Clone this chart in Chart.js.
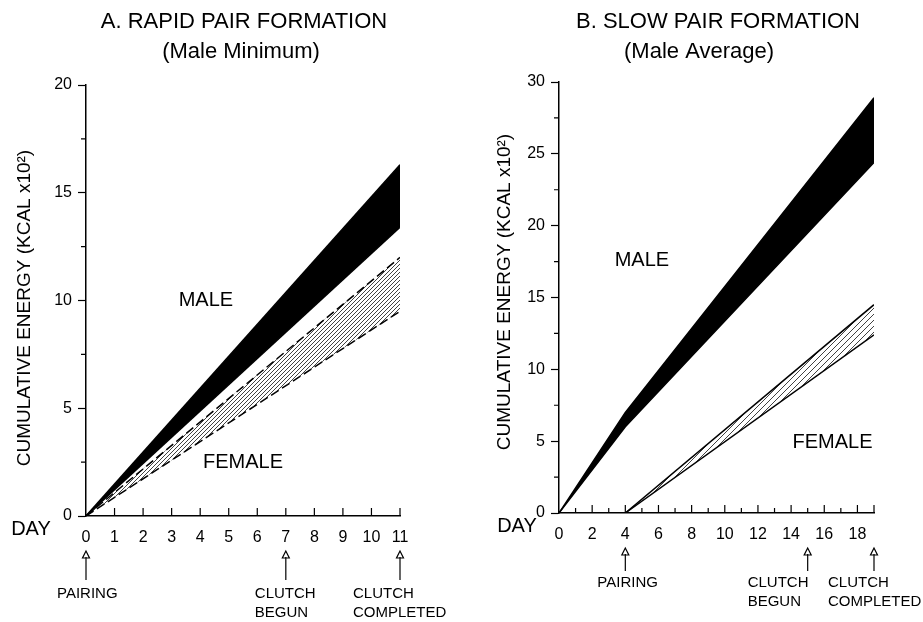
<!doctype html>
<html lang="en">
  <head>
    <meta charset="utf-8">
    <title>Cumulative energy of pair formation</title>
    <style>
      body { margin: 0; background: #fff; }
      .panel { position: absolute; top: 0; height: 622px; }
      #panelA { left: 0; width: 462px; }
      #panelB { left: 462px; width: 461px; }
    </style>
  </head>
  <body>
    <div class="panel" id="panelA"><canvas id="chartA"></canvas></div>
    <div class="panel" id="panelB"><canvas id="chartB"></canvas></div>

    <script src="https://cdn.jsdelivr.net/npm/chart.js@4/dist/chart.umd.min.js"></script>
    <script>
        // values (energy in kcal x 10^2)
        var daysA = [0, 11]
        var maleMaxA = [0, 16.3]
        var maleMinA = [0, 13.4]
        var femaleMaxA = [0, 12.0]
        var femaleMinA = [0, 9.5]

        var daysMaleB = [0, 4, 19]
        var maleMaxB = [0, 7.0, 28.9]
        var maleMinB = [0, 6.0, 24.4]
        var daysFemaleB = [4, 19]
        var femaleMaxB = [0, 14.5]
        var femaleMinB = [0, 12.4]

        var eventsA = [
            {day: 0, lines: ['PAIRING']},
            {day: 7, lines: ['CLUTCH', 'BEGUN']},
            {day: 11, lines: ['CLUTCH', 'COMPLETED']}
        ]
        var eventsB = [
            {day: 4, lines: ['PAIRING']},
            {day: 15, lines: ['CLUTCH', 'BEGUN']},
            {day: 19, lines: ['CLUTCH', 'COMPLETED']}
        ]

        var FONT = '"Liberation Sans", Arial, sans-serif'

        function pts(xs, ys) {
            return xs.map(function (x, i) { return {x: x, y: ys[i]} })
        }

        function hatch(w, h, lw) {
            var c = document.createElement('canvas')
            c.width = w
            c.height = h
            var g = c.getContext('2d')
            g.strokeStyle = '#111'
            g.lineWidth = lw
            g.beginPath()
            for (var k = -1; k <= 1; k++) {
                g.moveTo(k * w, h)
                g.lineTo(k * w + w, 0)
            }
            g.stroke()
            return g.createPattern(c, 'repeat')
        }

        function line(data, opts) {
            var d = {
                data: data,
                borderColor: '#000',
                borderWidth: 1.5,
                pointRadius: 0,
                tension: 0,
                fill: false
            }
            for (var k in opts) d[k] = opts[k]
            return d
        }

        // titles, axis texts, ticks pointing into the plot, event arrows
        function decor(cfg) {
            return {
                id: 'decor',
                afterDraw: function (chart) {
                    var ctx = chart.ctx
                    var x = chart.scales.x, y = chart.scales.y
                    var base = y.getPixelForValue(0)
                    ctx.save()
                    ctx.fillStyle = '#000'
                    ctx.strokeStyle = '#000'
                    ctx.textAlign = 'center'
                    ctx.textBaseline = 'middle'

                    ctx.font = '22px ' + FONT
                    ctx.fillText(cfg.title[0], cfg.titleX[0], 22)
                    ctx.fillText(cfg.title[1], cfg.titleX[1], 52)

                    ctx.save()
                    ctx.translate(cfg.yTitle[0], cfg.yTitle[1])
                    ctx.rotate(-Math.PI / 2)
                    ctx.font = '19px ' + FONT
                    ctx.fillText('CUMULATIVE ENERGY (KCAL x10\u00B2)', 0, 0)
                    ctx.restore()

                    ctx.font = '20px ' + FONT
                    ctx.fillText('DAY', cfg.dayX, base + 13)
                    cfg.words.forEach(function (w) {
                        ctx.fillText(w.text, x.getPixelForValue(w.x), y.getPixelForValue(w.y))
                    })

                    // minor y ticks
                    ctx.lineWidth = 1.2
                    ctx.beginPath()
                    for (var v = 2.5; v < y.max; v += 5) {
                        var py = y.getPixelForValue(v)
                        ctx.moveTo(x.left, py)
                        ctx.lineTo(x.left - 5, py)
                    }
                    // x ticks pointing up
                    for (var d = 1; d <= x.max; d++) {
                        var px = x.getPixelForValue(d)
                        var len = (d % cfg.majorEvery === 0 || d === x.max) ? 8 : 5
                        ctx.moveTo(px, base)
                        ctx.lineTo(px, base - len)
                    }
                    ctx.stroke()

                    // event arrows
                    ctx.font = '15px ' + FONT
                    ctx.textAlign = 'left'
                    cfg.events.forEach(function (ev, i) {
                        var px = x.getPixelForValue(ev.day)
                        var top = cfg.arrowTop
                        ctx.lineWidth = 1.2
                        ctx.beginPath()
                        ctx.moveTo(px, top + 6)
                        ctx.lineTo(px, cfg.arrowBottom)
                        ctx.stroke()
                        ctx.beginPath()
                        ctx.moveTo(px, top)
                        ctx.lineTo(px - 3.5, top + 7)
                        ctx.lineTo(px + 3.5, top + 7)
                        ctx.closePath()
                        ctx.stroke()
                        ev.lines.forEach(function (t, j) {
                            ctx.fillText(t, px + cfg.textOffset[i], cfg.textY + j * 19)
                        })
                    })
                    ctx.restore()
                }
            }
        }

        function axes(xmax, ymax, yWidth, xHeight, majorEvery) {
            return {
                x: {
                    type: 'linear', min: 0, max: xmax,
                    grid: {display: false},
                    border: {display: true, color: '#000', width: 1.5},
                    ticks: {
                        stepSize: 1, autoSkip: false, maxRotation: 0, padding: 4,
                        color: '#000', font: {family: FONT, size: 16},
                        callback: function (v) { return v % majorEvery === 0 ? v : '' }
                    },
                    afterFit: function (s) { s.height = xHeight }
                },
                y: {
                    min: 0, max: ymax,
                    grid: {drawOnChartArea: false, drawTicks: true, tickLength: 8, color: '#000', tickWidth: 1.2},
                    border: {display: true, color: '#000', width: 1.5},
                    ticks: {stepSize: 5, padding: 6, color: '#000', font: {family: FONT, size: 16}},
                    afterFit: function (s) { s.width = yWidth }
                }
            }
        }

        var common = {
            responsive: false,
            animation: false,
            plugins: {legend: {display: false}, tooltip: {enabled: false}}
        }

        var cA = document.getElementById('chartA')
        cA.width = 462; cA.height = 622
        new Chart(cA.getContext('2d'), {
            type: 'line',
            data: {
                datasets: [
                    line(pts(daysA, maleMaxA), {fill: '+1', backgroundColor: '#000'}),
                    line(pts(daysA, maleMinA)),
                    line(pts(daysA, femaleMaxA), {fill: '+1', backgroundColor: hatch(4, 4, 0.8), borderDash: [9, 4]}),
                    line(pts(daysA, femaleMinA), {borderDash: [9, 4]})
                ]
            },
            options: Object.assign({}, common, {
                layout: {padding: {top: 85, right: 62, left: 0, bottom: 0}},
                scales: axes(11, 20, 86, 106, 1)
            }),
            plugins: [decor({
                title: ['A. RAPID PAIR FORMATION', '(Male Minimum)'],
                titleX: [244, 241],
                yTitle: [25, 308],
                dayX: 31,
                majorEvery: 1,
                words: [{text: 'MALE', x: 4.2, y: 10.0}, {text: 'FEMALE', x: 5.5, y: 2.5}],
                events: eventsA,
                arrowTop: 551,
                arrowBottom: 580,
                textOffset: [-29, -31, -47],
                textY: 594
            })]
        })

        var cB = document.getElementById('chartB')
        cB.width = 461; cB.height = 622
        new Chart(cB.getContext('2d'), {
            type: 'line',
            data: {
                datasets: [
                    line(pts(daysMaleB, maleMaxB), {fill: '+1', backgroundColor: '#000'}),
                    line(pts(daysMaleB, maleMinB)),
                    line(pts(daysFemaleB, femaleMaxB), {fill: '+1', backgroundColor: hatch(6, 6, 0.8)}),
                    line(pts(daysFemaleB, femaleMinB))
                ]
            },
            options: Object.assign({}, common, {
                layout: {padding: {top: 82, right: 49, left: 0, bottom: 0}},
                scales: axes(19, 30, 97, 109, 2)
            }),
            plugins: [decor({
                title: ['B. SLOW PAIR FORMATION', '(Male Average)'],
                titleX: [256, 237],
                yTitle: [43, 292],
                dayX: 55,
                majorEvery: 2,
                words: [{text: 'MALE', x: 5.0, y: 17.6}, {text: 'FEMALE', x: 16.5, y: 4.9}],
                events: eventsB,
                arrowTop: 548,
                arrowBottom: 571,
                textOffset: [-28, -60, -46],
                textY: 583
            })]
        })
    </script>
  </body>
</html>
